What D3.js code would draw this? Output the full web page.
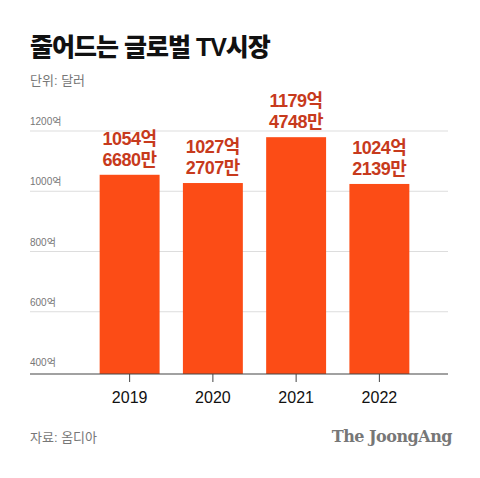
<!DOCTYPE html>
<html><head><meta charset="utf-8">
<script src="https://cdn.jsdelivr.net/npm/d3@7.9.0/dist/d3.min.js"></script>
<style>body{margin:0;background:#fff}svg{font-family:"Liberation Sans","Noto Sans CJK KR",sans-serif}</style>
</head><body><svg id="chart" width="480" height="478"></svg>
<script>
// Data
const years = ['2019', '2020', '2021', '2022'];
const values = [1054.668, 1027.2707, 1179.4748, 1024.2139]; // 억 달러
const labelTop = ['1054억', '1027억', '1179억', '1024억'];
const labelBottom = ['6680만', '2707만', '4748만', '2139만'];
const yTicks = [400, 600, 800, 1000, 1200];

const svg = d3.select('#chart');

// Title and unit
svg.append('text').attr('x', 30).attr('y', 56).attr('font-size', 25).attr('font-weight', 900)
    .attr('letter-spacing', -1).attr('fill', '#111').text('줄어드는 글로벌 TV시장');
svg.append('text').attr('x', 30).attr('y', 85).attr('font-size', 13).attr('fill', '#777').text('단위: 달러');

// Scales
const x = d3.scaleBand().domain(years).range([88, 421]).paddingInner(0.28).paddingOuter(0.14);
const y = d3.scaleLinear().domain([400, 1200]).range([372, 131]);

// Gridlines + labels
const grid = svg.append('g');
yTicks.forEach((t) => {
    if (t > 400) {
        grid.append('line').attr('x1', 30).attr('x2', 448).attr('y1', y(t)).attr('y2', y(t))
            .attr('stroke', '#ddd').attr('stroke-width', 1);
    }
    grid.append('text').attr('x', 30).attr('y', y(t) - 6).attr('font-size', 10)
        .attr('fill', '#777').text(t + '억');
});

// Bars
svg.append('g').selectAll('rect').data(years).join('rect')
    .attr('x', (d) => x(d)).attr('width', x.bandwidth())
    .attr('y', (d, i) => y(values[i])).attr('height', (d, i) => y(400) - y(values[i]) + 2)
    .attr('fill', '#fc4c16');

// Value labels
const lab = svg.append('g').attr('font-size', 18).attr('font-weight', 700).attr('fill', '#c73a1c')
    .attr('text-anchor', 'middle').attr('letter-spacing', -0.5);
years.forEach((d, i) => {
    const cx = x(d) + x.bandwidth() / 2;
    const top = y(values[i]);
    lab.append('text').attr('x', cx).attr('y', top - 30).text(labelTop[i]);
    lab.append('text').attr('x', cx).attr('y', top - 9).text(labelBottom[i]);
});

// X axis
const xAxis = svg.append('g').attr('transform', `translate(0,${y(400) + 2})`);
xAxis.append('line').attr('x1', 30).attr('x2', 448).attr('stroke', '#444').attr('stroke-width', 1.2);
xAxis.selectAll('.tk').data(years).join('line').attr('class', 'tk')
    .attr('x1', (d) => x(d) + x.bandwidth() / 2).attr('x2', (d) => x(d) + x.bandwidth() / 2)
    .attr('y1', 0).attr('y2', 8).attr('stroke', '#444');
xAxis.selectAll('text').data(years).join('text')
    .attr('x', (d) => x(d) + x.bandwidth() / 2).attr('y', 29)
    .attr('text-anchor', 'middle').attr('font-size', 16).attr('fill', '#111').text((d) => d);

// Footer
svg.append('text').attr('x', 30).attr('y', 442).attr('font-size', 13).attr('fill', '#777').text('자료: 옴디아');
svg.append('text').attr('x', 452).attr('y', 442).attr('text-anchor', 'end').attr('font-size', 16)
    .attr('font-weight', 700).attr('fill', '#777').attr('font-family', 'DejaVu Serif, serif')
    .attr('letter-spacing', -0.5).text('The JoongAng');
</script></body></html>
